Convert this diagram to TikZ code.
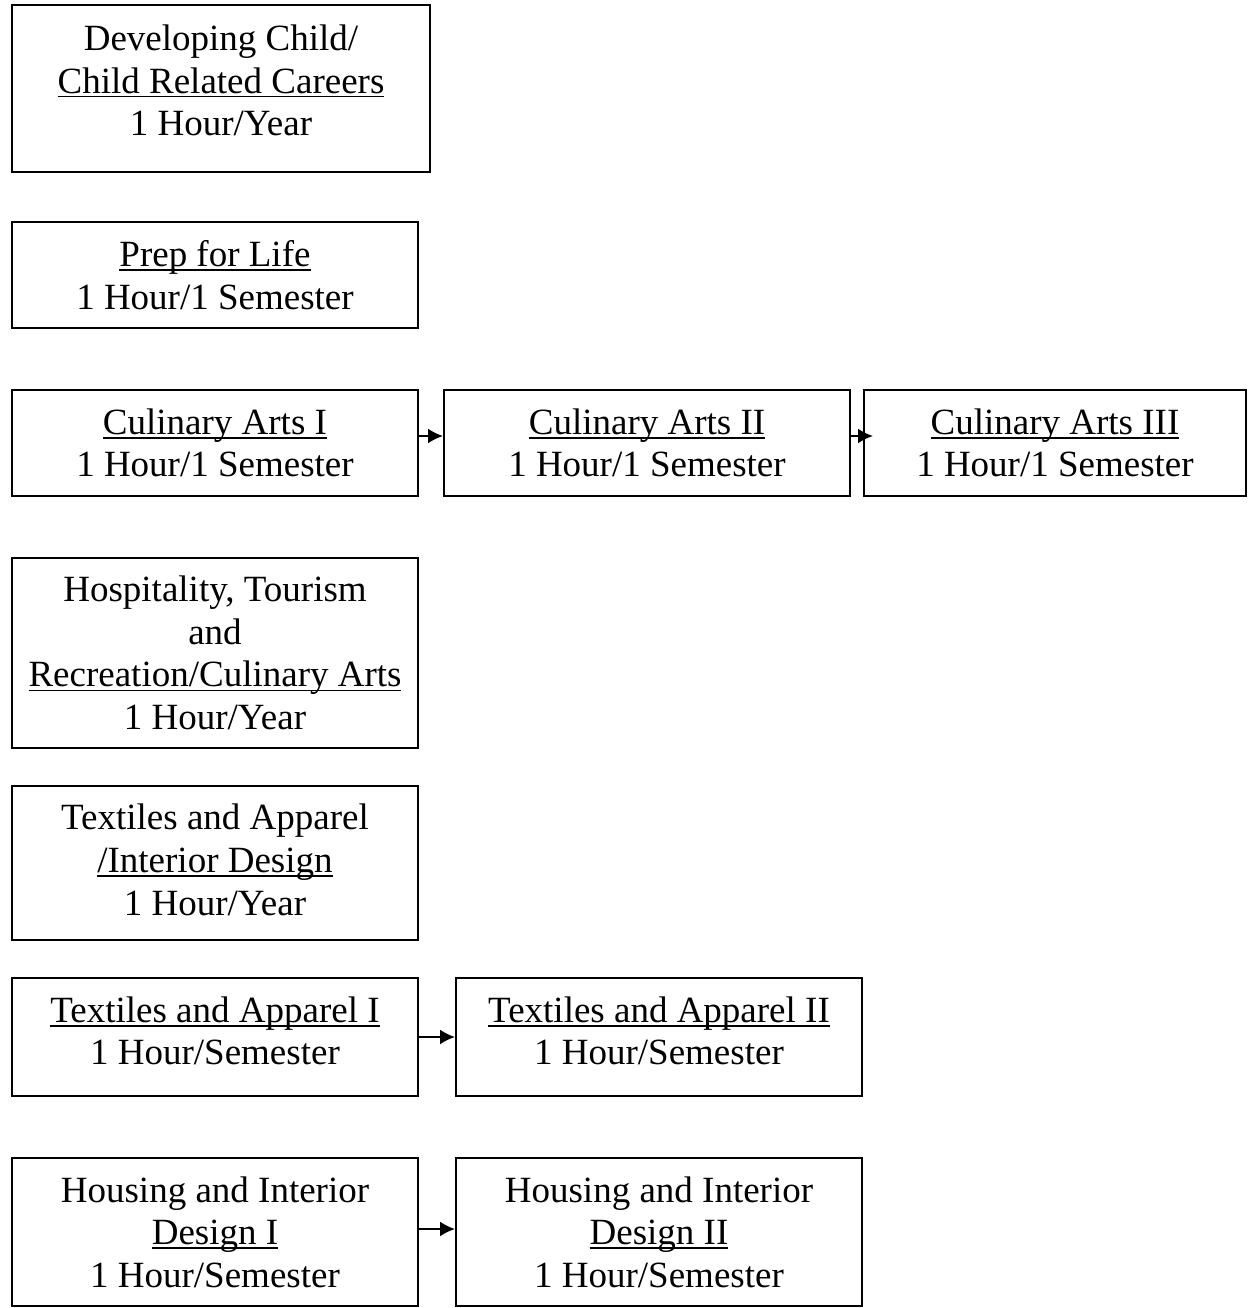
\documentclass[tikz,border=0pt]{standalone}
\usepackage{fontspec}
\setmainfont{Liberation Serif}
\usetikzlibrary{arrows.meta, positioning}

% underline at a fixed depth, through the descenders
\newcommand{\ulin}[1]{\setbox0=\hbox{#1}\rlap{\rule[-2.2pt]{\wd0}{0.9pt}}\box0}

\begin{document}
\begin{tikzpicture}[
  x = 0.5pt, y = -0.5pt,
  course/.style={draw, line width=1pt, rectangle, align=center, inner sep=0pt,
    font=\fontsize{18.5}{21.3}\selectfont},
  sem/.style={course, minimum width=203pt, minimum height=53pt},
  next/.style={line width=1pt, -{Latex[length=7.5pt,width=7.5pt]}}
]
\useasboundingbox (0,0) rectangle (1248,1308);

%single courses
\node[course, minimum width=209pt, minimum height=83.5pt] (child) at (221,88.5)
  {Developing Child/\\ \ulin{Child Related Careers}\\ 1 Hour/Year\\[-13pt]};
\node[sem] (prep) at (215,275) {\ulin{Prep for Life}\\ 1 Hour/1 Semester};

%culinary arts
\node[sem] (culI)   at (215,443)  {\ulin{Culinary Arts I}\\ 1 Hour/1 Semester};
\node[sem] (culII)  at (647,443)  {\ulin{Culinary Arts II}\\ 1 Hour/1 Semester};
\node[sem, minimum width=191pt] (culIII) at (1055,443) {\ulin{Culinary Arts III}\\ 1 Hour/1 Semester};

\node[course, minimum width=203pt, minimum height=95pt] (hosp) at (215,653)
  {Hospitality, Tourism\\ and\\ \ulin{Recreation/Culinary Arts}\\ 1 Hour/Year};
\node[course, minimum width=203pt, minimum height=77pt] (texint) at (215,863)
  {Textiles and Apparel\\ \ulin{/Interior Design}\\ 1 Hour/Year\\[-18pt]};

%textiles
\node[course, minimum width=203pt, minimum height=59pt] (texI)  at (215,1037)
  {\ulin{Textiles and Apparel I}\\ 1 Hour/Semester\\[-15pt]};
\node[course, minimum width=203pt, minimum height=59pt] (texII) at (659,1037)
  {\ulin{Textiles and Apparel II}\\ 1 Hour/Semester\\[-15pt]};

%housing
\node[course, minimum width=203pt, minimum height=74pt] (houI)  at (215,1232)
  {Housing and Interior\\ \ulin{Design I}\\ 1 Hour/Semester};
\node[course, minimum width=203pt, minimum height=74pt] (houII) at (659,1232)
  {Housing and Interior\\ \ulin{Design II}\\ 1 Hour/Semester};

%sequences
\draw[next] ([yshift=3.5pt]culI.east) -- ([yshift=3.5pt]culII.west);
\draw[next, shorten >=-5pt] ([yshift=3.5pt]culII.east) -- ([yshift=3.5pt]culIII.west);
\draw[next] (texI.east) -- (texII.west);
\draw[next] ([yshift=1.5pt]houI.east) -- ([yshift=1.5pt]houII.west);

\end{tikzpicture}
\end{document}
